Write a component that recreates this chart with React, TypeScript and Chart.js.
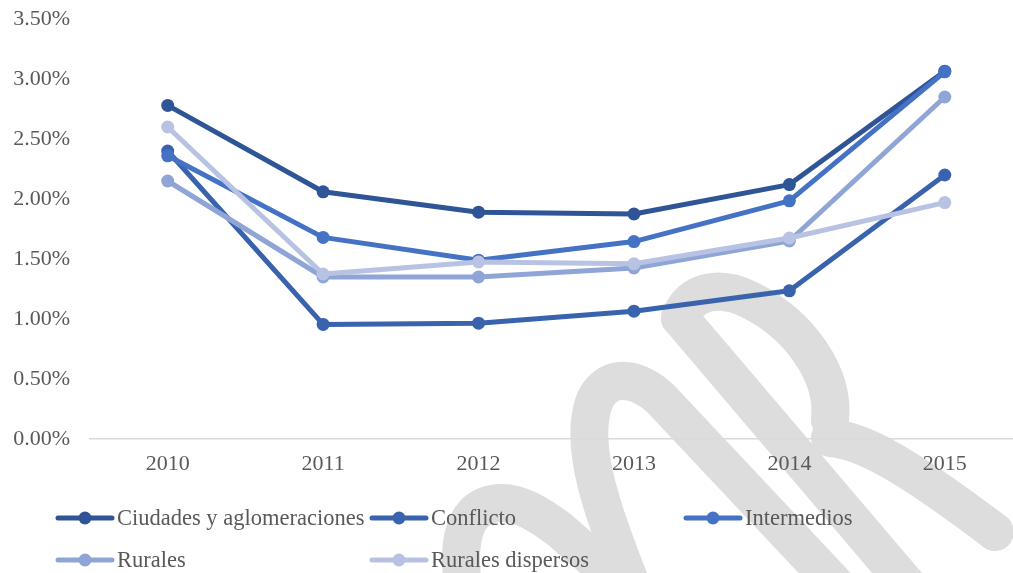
import React, { useEffect, useRef } from "react";
import { Chart, registerables } from "chart.js";

Chart.register(...registerables);

const years = ["2010", "2011", "2012", "2013", "2014", "2015"];
const ciudades = [2.78, 2.06, 1.89, 1.875, 2.12, 3.065];
const conflicto = [2.4, 0.955, 0.965, 1.065, 1.235, 2.2];
const intermedios = [2.36, 1.68, 1.49, 1.645, 1.985, 3.06];
const rurales = [2.15, 1.35, 1.35, 1.425, 1.65, 2.85];
const ruralesDispersos = [2.6, 1.375, 1.475, 1.46, 1.675, 1.97];
const yTicks = [0, 0.5, 1, 1.5, 2, 2.5, 3, 3.5];

const seriesNames = ["Ciudades y aglomeraciones", "Conflicto", "Intermedios", "Rurales", "Rurales dispersos"];
const seriesValues = [ciudades, conflicto, intermedios, rurales, ruralesDispersos];
const seriesColors = ["#2F5597", "#3A63AD", "#4472C4", "#8FA5D6", "#B8C3E4"];

const FONT = "'Liberation Serif', 'DejaVu Serif', serif";
const TEXT = "#595959";

// Decorative background watermark (light gray strokes behind the chart)
const watermarkPlugin = {
  id: "watermark",
  beforeDraw(chart: any) {
    const ctx = chart.ctx;
    ctx.save();
    ctx.strokeStyle = "#DDDDDD";
    ctx.lineWidth = 38;
    ctx.lineCap = "round";
    ctx.lineJoin = "round";
    // inner arch
    ctx.beginPath();
    ctx.moveTo(470, 620);
    ctx.bezierCurveTo(455, 560, 455, 505, 500, 503);
    ctx.bezierCurveTo(520, 502, 540, 515, 560, 530);
    ctx.lineTo(640, 600);
    ctx.stroke();
    // middle arch
    ctx.beginPath();
    ctx.moveTo(645, 620);
    ctx.bezierCurveTo(610, 530, 575, 450, 595, 400);
    ctx.bezierCurveTo(610, 370, 640, 380, 660, 398);
    ctx.lineTo(850, 600);
    ctx.stroke();
    // R: stem
    ctx.beginPath();
    ctx.moveTo(680, 318);
    ctx.lineTo(920, 600);
    ctx.stroke();
    // R: bowl
    ctx.beginPath();
    ctx.moveTo(680, 318);
    ctx.bezierCurveTo(690, 290, 720, 285, 750, 300);
    ctx.bezierCurveTo(800, 325, 835, 375, 830, 420);
    ctx.stroke();
    // R: leg
    ctx.beginPath();
    ctx.moveTo(830, 438);
    ctx.bezierCurveTo(860, 440, 900, 460, 995, 532);
    ctx.stroke();
    ctx.restore();
  },
};

const legendPlugin = {
  id: "gridLegend",
  afterDraw(chart: any) {
    const ctx = chart.ctx;
    const colX = [58, 372, 686];
    const rowY = [518, 560];
    ctx.save();
    ctx.font = `22.5px ${FONT}`;
    ctx.textBaseline = "middle";
    ctx.textAlign = "left";
    chart.data.datasets.forEach((ds: any, i: number) => {
      const x = colX[i % 3];
      const y = rowY[Math.floor(i / 3)];
      ctx.strokeStyle = ds.borderColor;
      ctx.lineWidth = 5;
      ctx.lineCap = "round";
      ctx.beginPath();
      ctx.moveTo(x, y);
      ctx.lineTo(x + 54, y);
      ctx.stroke();
      ctx.fillStyle = ds.borderColor;
      ctx.beginPath();
      ctx.arc(x + 27, y, 6.5, 0, Math.PI * 2);
      ctx.fill();
      ctx.fillStyle = TEXT;
      ctx.fillText(ds.label, x + 59, y + 1);
    });
    ctx.restore();
  },
};

export default function App() {
  const ref = useRef<HTMLCanvasElement | null>(null);
  useEffect(() => {
    if (!ref.current) return;
    const chart = new Chart(ref.current, {
      type: "line",
      data: {
        labels: years,
        datasets: seriesNames.map((name, i) => ({
          label: name,
          data: seriesValues[i],
          borderColor: seriesColors[i],
          backgroundColor: seriesColors[i],
          borderWidth: 5,
          pointRadius: 6.5,
          pointHoverRadius: 6.5,
          pointBorderWidth: 0,
          tension: 0,
          order: 5 - i,
          borderCapStyle: "round",
          borderJoinStyle: "round",
        })),
      },
      options: {
        animation: false,
        responsive: false,
        maintainAspectRatio: false,
        layout: { padding: { top: 19, bottom: 84, left: 0, right: 0 } },
        plugins: { legend: { display: false }, tooltip: { enabled: false } },
        scales: {
          x: {
            offset: true,
            grid: { display: false, drawTicks: false },
            border: { display: true, color: "#D9D9D9", width: 1.5 },
            ticks: { color: TEXT, font: { family: FONT, size: 22 }, padding: 12, maxRotation: 0 },
            afterFit: (s: any) => { s.height = 50; s.paddingLeft = 0; s.paddingRight = 0; },
          },
          y: {
            min: 0,
            max: 3.5,
            afterBuildTicks: (s: any) => { s.ticks = yTicks.map((v) => ({ value: v })); },
            grid: { display: false, drawTicks: false },
            border: { display: false },
            ticks: {
              color: TEXT,
              font: { family: FONT, size: 22 },
              padding: 20,
              callback: (v: any) => Number(v).toFixed(2) + "%",
            },
            afterFit: (s: any) => { s.width = 90; s.paddingTop = 0; s.paddingBottom = 0; },
          },
        },
      },
      plugins: [watermarkPlugin, legendPlugin],
    });
    return () => chart.destroy();
  }, []);
  return (
    <div style={{ position: "fixed", left: 0, top: 0, width: 1029, height: 573, background: "#fff" }}>
      <canvas ref={ref} width={1029} height={573} style={{ width: 1029, height: 573, display: "block" }} />
    </div>
  );
}
